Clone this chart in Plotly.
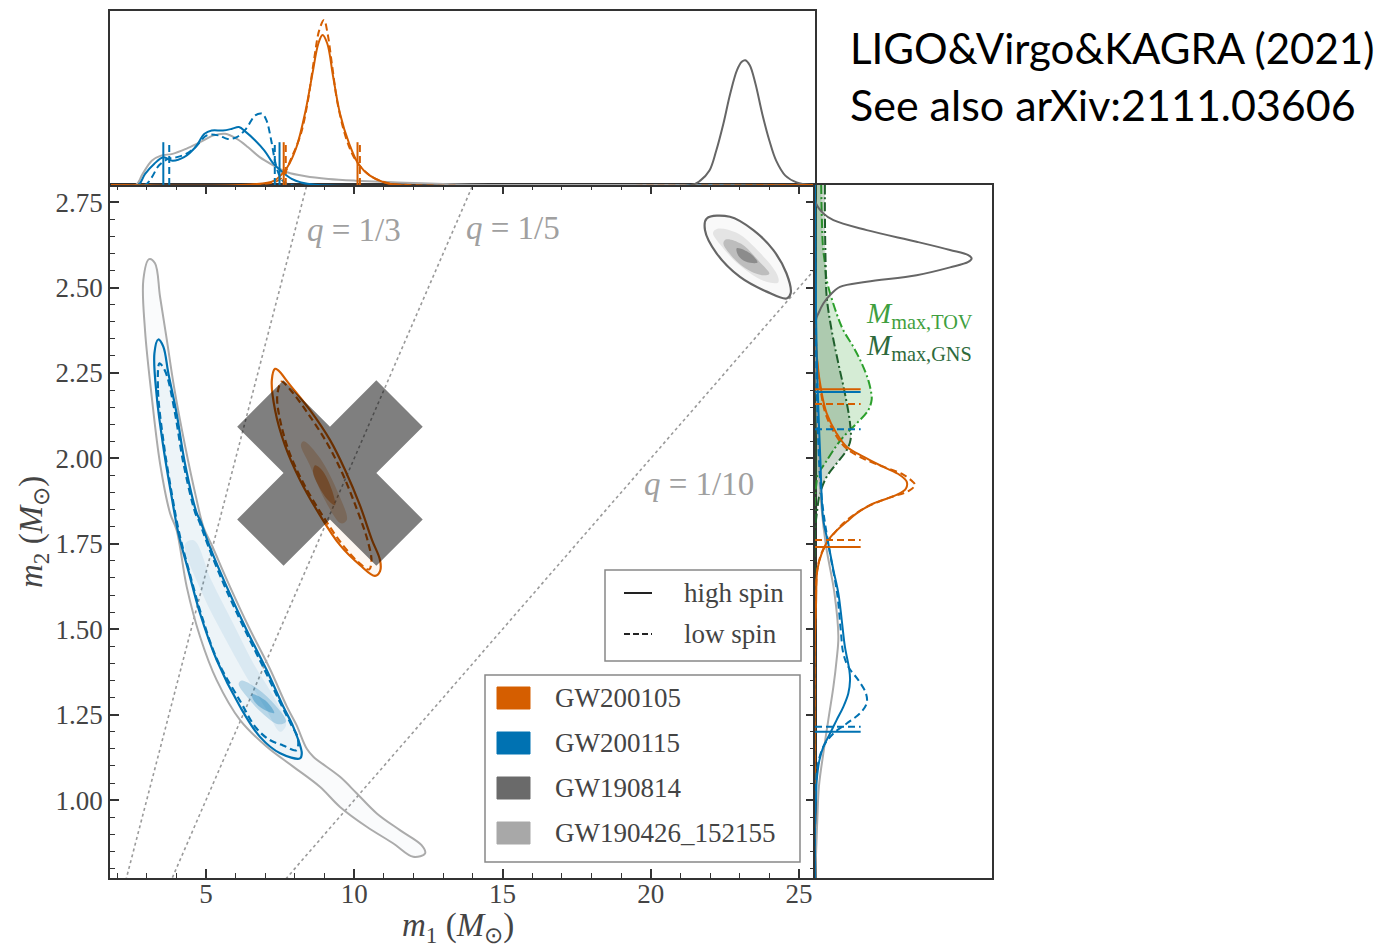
import plotly.graph_objects as go

W, H = 1389, 952
def px(x): return x / W
def py(y): return 1 - y / H

C_OR = '#d55e00'
C_BL = '#0072b2'
C_DG = '#666666'
C_LG = '#ababab'
C_TOV = '#2ca02c'
C_GNS = '#1f5f2c'
AXC = '#333333'
TXT = '#444444'
SERIF = 'Liberation Serif, Times New Roman, serif'

# ---------------- data (m1, m2 in solar masses) ----------------
q_values = [1/3, 1/5, 1/10]
q_labels = ['1/3', '1/5', '1/10']
q_label_m1 = [10.0, 15.34, 21.63]
q_label_m2 = [2.668, 2.674, 1.925]

# GW190426_152155 90% contour
gw426_m1 = [3.08, 2.886, 2.943, 3.17, 3.45, 3.79, 4.01, 4.35, 4.80, 5.36, 6.15, 7.05, 7.94, 8.84, 9.52,
            10.42, 11.32, 11.99, 12.39, 12.27, 11.54, 10.76, 10.08, 9.52, 8.62, 8.40, 8.05, 7.72, 7.15,
            6.45, 5.78, 5.20, 4.91, 4.66, 4.30, 3.92, 3.68, 3.45, 3.28, 3.08]
gw426_m2 = [2.583, 2.522, 2.375, 2.180, 1.985, 1.839, 1.790, 1.624, 1.478, 1.351, 1.234, 1.156, 1.098, 1.039, 0.980,
            0.922, 0.873, 0.834, 0.844, 0.868, 0.912, 0.961, 1.020, 1.068, 1.127, 1.150, 1.220, 1.275, 1.385,
            1.505, 1.630, 1.745, 1.800, 1.888, 2.034, 2.210, 2.346, 2.473, 2.571, 2.583]

# GW200115 contours
gw115_hi_m1 = [3.39, 3.26, 3.34, 3.56, 3.84, 4.07, 4.40, 4.80, 5.36, 6.15, 6.82, 7.50, 8.17, 8.23, 7.94, 7.61,
               7.05, 6.37, 5.70, 5.13, 4.80, 4.69, 4.29, 4.01, 3.73, 3.56, 3.39]
gw115_hi_m2 = [2.348, 2.307, 2.180, 2.034, 1.888, 1.780, 1.673, 1.546, 1.410, 1.273, 1.185, 1.137, 1.122, 1.137,
               1.215, 1.273, 1.380, 1.498, 1.624, 1.741, 1.819, 1.839, 1.985, 2.131, 2.249, 2.327, 2.348]
gw115_lo_m1 = [3.43, 3.38, 3.58, 3.86, 4.10, 4.43, 4.83, 5.38, 6.15, 6.70, 7.15, 7.60, 8.05, 8.10, 7.88, 7.56,
               7.01, 6.33, 5.66, 5.09, 4.75, 4.64, 4.24, 3.96, 3.69, 3.53, 3.43]
gw115_lo_m2 = [2.278, 2.200, 2.040, 1.890, 1.780, 1.670, 1.546, 1.410, 1.290, 1.210, 1.176, 1.160, 1.146, 1.180,
               1.220, 1.275, 1.375, 1.495, 1.620, 1.740, 1.820, 1.840, 1.985, 2.130, 2.240, 2.270, 2.278]
gw115_mid_m1 = [4.30, 4.90, 5.60, 6.30, 7.00, 7.50, 7.70, 7.30, 6.60, 5.90, 5.20, 4.60, 4.30]
gw115_mid_m2 = [1.750, 1.600, 1.480, 1.370, 1.270, 1.200, 1.220, 1.300, 1.400, 1.520, 1.640, 1.760, 1.750]
gw115_core_m1 = [6.20, 6.75, 7.33, 7.70, 7.43, 6.89, 6.40, 6.10, 6.20]
gw115_core_m2 = [1.350, 1.325, 1.278, 1.230, 1.222, 1.255, 1.300, 1.340, 1.350]
gw115_peak_m1 = [6.55, 7.05, 7.30, 6.95, 6.62, 6.55]
gw115_peak_m2 = [1.310, 1.288, 1.255, 1.265, 1.290, 1.310]

# GW200105 contours
gw105_hi_m1 = [7.33, 7.22, 7.33, 7.66, 8.17, 8.84, 9.52, 10.19, 10.70, 10.87, 10.87, 10.60, 10.19, 9.69,
               9.18, 8.51, 7.83, 7.43, 7.33]
gw105_hi_m2 = [2.262, 2.229, 2.141, 2.039, 1.937, 1.834, 1.746, 1.688, 1.656, 1.670, 1.702, 1.761, 1.863, 1.966,
               2.054, 2.141, 2.215, 2.258, 2.262]
gw105_lo_m1 = [7.50, 7.40, 7.48, 7.80, 8.30, 8.95, 9.58, 10.15, 10.50, 10.58, 10.45, 10.05, 9.58, 9.08, 8.45,
               7.85, 7.55, 7.50]
gw105_lo_m2 = [2.22, 2.18, 2.12, 2.02, 1.925, 1.83, 1.75, 1.695, 1.675, 1.70, 1.76, 1.86, 1.96, 2.045, 2.13,
               2.20, 2.225, 2.22]
gw105_mid_m1 = [8.30, 8.85, 9.45, 9.75, 9.55, 9.00, 8.50, 8.20, 8.30]
gw105_mid_m2 = [2.050, 2.000, 1.900, 1.820, 1.810, 1.880, 1.980, 2.040, 2.050]
gw105_core_m1 = [8.68, 8.91, 9.25, 9.35, 9.11, 8.78, 8.61, 8.68]
gw105_core_m2 = [1.980, 1.966, 1.907, 1.863, 1.878, 1.922, 1.960, 1.980]

# GW190814 contour
gw814_m1 = [21.89, 22.67, 23.46, 24.13, 24.58, 24.72, 24.58, 23.91, 23.01, 22.22, 21.83, 21.89]
gw814_m2 = [2.702, 2.707, 2.668, 2.610, 2.541, 2.483, 2.468, 2.488, 2.531, 2.600, 2.668, 2.702]
gw814_mid_m1 = [22.25, 22.90, 23.70, 24.25, 24.30, 23.80, 23.00, 22.35, 22.10, 22.25]
gw814_mid_m2 = [2.672, 2.660, 2.600, 2.540, 2.515, 2.520, 2.565, 2.625, 2.660, 2.672]
gw814_core_m1 = [22.55, 23.05, 23.68, 24.00, 23.75, 23.18, 22.65, 22.45, 22.55]
gw814_core_m2 = [2.641, 2.628, 2.574, 2.540, 2.536, 2.557, 2.600, 2.630, 2.641]
gw814_peak_m1 = [22.90, 23.35, 23.60, 23.20, 22.95, 22.90]
gw814_peak_m2 = [2.615, 2.600, 2.573, 2.576, 2.594, 2.615]

cross_m1, cross_m2 = 9.18, 1.957

# ---------- top marginal: p(m1), normalised to panel height ----------
top_or_hi_x = [1.8, 6.5, 7.3, 7.74, 8.05, 8.36, 8.59, 8.79, 8.93, 9.09, 9.29, 9.52, 9.83, 10.14, 10.53, 11.0, 11.5, 25.5]
top_or_hi_y = [0, 0.003, 0.025, 0.102, 0.217, 0.429, 0.640, 0.813, 0.862, 0.813, 0.621, 0.410, 0.237, 0.121, 0.054, 0.015, 0.0, 0]
top_or_lo_x = [1.8, 6.8, 7.51, 7.89, 8.20, 8.44, 8.64, 8.82, 8.98, 9.10, 9.26, 9.44, 9.75, 10.06, 10.53, 11.15, 11.8, 25.5]
top_or_lo_y = [0, 0.003, 0.035, 0.160, 0.294, 0.487, 0.717, 0.890, 0.948, 0.871, 0.679, 0.467, 0.256, 0.140, 0.054, 0.010, 0, 0]
top_bl_hi_x = [1.8, 2.71, 2.94, 3.25, 3.56, 3.87, 4.26, 4.64, 4.95, 5.19, 5.57, 5.88, 6.11, 6.35, 6.66, 6.97, 7.28, 7.59, 7.89, 8.20, 8.67, 25.5]
top_bl_hi_y = [0, 0, 0.063, 0.121, 0.160, 0.140, 0.160, 0.217, 0.294, 0.313, 0.313, 0.323, 0.333, 0.304, 0.256, 0.198, 0.121, 0.073, 0.035, 0.015, 0.002, 0]
top_bl_lo_x = [1.8, 2.94, 3.17, 3.41, 3.72, 4.02, 4.33, 4.64, 5.03, 5.42, 5.73, 6.04, 6.35, 6.66, 6.89, 7.04, 7.20, 7.35, 7.51, 7.74, 25.5]
top_bl_lo_y = [0, 0, 0.044, 0.112, 0.150, 0.160, 0.179, 0.217, 0.285, 0.285, 0.265, 0.275, 0.323, 0.400, 0.410, 0.371, 0.256, 0.121, 0.044, 0.006, 0]
top_426_x = [1.8, 2.63, 2.86, 3.17, 3.48, 3.87, 4.33, 4.80, 5.26, 5.65, 6.04, 6.42, 6.81, 7.28, 7.74, 8.36, 9.13, 10.06, 11.46, 13.0, 14.55, 25.5]
top_426_y = [0, 0, 0.063, 0.140, 0.169, 0.179, 0.208, 0.246, 0.285, 0.294, 0.265, 0.217, 0.160, 0.112, 0.073, 0.050, 0.035, 0.025, 0.015, 0.006, 0, 0]
top_814_x = [1.8, 21.36, 21.67, 21.98, 22.21, 22.45, 22.68, 22.91, 23.07, 23.19, 23.34, 23.53, 23.76, 24.0, 24.23, 24.54, 24.92, 25.4, 25.54]
top_814_y = [0, 0, 0.025, 0.083, 0.198, 0.352, 0.525, 0.660, 0.708, 0.717, 0.688, 0.583, 0.410, 0.256, 0.140, 0.054, 0.015, 0, 0]
# 90% intervals on m1
ci_m1_or_hi = [7.62, 10.11]
ci_m1_or_lo = [7.69, 10.19]
ci_m1_bl_hi = [3.56, 7.48]
ci_m1_bl_lo = [3.76, 7.32]
ci_top_height = 0.246

# ---------- right marginal: p(m2), normalised to panel width ----------
r_814_m2 = [2.80, 2.746, 2.717, 2.697, 2.668, 2.634, 2.610, 2.595, 2.585, 2.575, 2.559, 2.536, 2.517, 2.502, 2.478, 2.453, 2.424, 2.405, 0.772]
r_814_p = [0.0, 0.006, 0.047, 0.104, 0.292, 0.574, 0.763, 0.866, 0.885, 0.866, 0.763, 0.574, 0.292, 0.141, 0.085, 0.047, 0.019, 0.006, 0.0]
r_tov_m2 = [2.80, 2.717, 2.619, 2.571, 2.522, 2.424, 2.375, 2.327, 2.278, 2.229, 2.190, 2.171, 2.141, 2.102, 2.063, 2.024, 1.985, 1.956, 1.917, 1.88, 0.772]
r_tov_p = [0.035, 0.038, 0.045, 0.056, 0.066, 0.122, 0.160, 0.216, 0.264, 0.301, 0.318, 0.320, 0.301, 0.235, 0.160, 0.104, 0.056, 0.019, 0.006, 0.0, 0.0]
r_gns_m2 = [2.80, 2.717, 2.571, 2.473, 2.375, 2.278, 2.190, 2.102, 2.055, 2.024, 1.985, 1.946, 1.897, 1.838, 1.78, 0.772]
r_gns_p = [0.056, 0.056, 0.060, 0.066, 0.094, 0.132, 0.169, 0.198, 0.201, 0.179, 0.122, 0.066, 0.028, 0.010, 0.0, 0.0]
r_or_hi_m2 = [2.80, 2.3, 2.190, 2.132, 2.073, 2.034, 2.005, 1.975, 1.951, 1.932, 1.912, 1.893, 1.868, 1.839, 1.815, 1.790, 1.761, 1.722, 1.673, 1.576, 1.478, 0.772]
r_or_hi_p = [0, 0.01, 0.038, 0.066, 0.122, 0.179, 0.273, 0.386, 0.480, 0.518, 0.514, 0.461, 0.330, 0.235, 0.180, 0.125, 0.075, 0.038, 0.013, 0.006, 0.0, 0]
r_or_lo_m2 = [2.80, 2.3, 2.19, 2.13, 2.07, 2.03, 2.0, 1.975, 1.955, 1.935, 1.922, 1.905, 1.885, 1.86, 1.835, 1.81, 1.785, 1.755, 1.72, 1.67, 1.58, 1.48, 0.772]
r_or_lo_p = [0, 0.01, 0.035, 0.06, 0.115, 0.175, 0.27, 0.39, 0.49, 0.545, 0.565, 0.53, 0.42, 0.30, 0.22, 0.16, 0.115, 0.07, 0.035, 0.012, 0.005, 0, 0]
r_bl_hi_m2 = [2.80, 2.3, 2.0, 1.819, 1.751, 1.673, 1.605, 1.527, 1.449, 1.380, 1.351, 1.312, 1.273, 1.234, 1.195, 1.156, 1.117, 1.059, 1.010, 0.95, 0.772]
r_bl_hi_p = [0.0, 0.01, 0.03, 0.047, 0.075, 0.104, 0.132, 0.151, 0.169, 0.194, 0.198, 0.188, 0.160, 0.122, 0.085, 0.047, 0.025, 0.010, 0.006, 0.0, 0.0]
r_bl_lo_m2 = [2.80, 2.2, 1.9, 1.751, 1.605, 1.50, 1.429, 1.390, 1.351, 1.312, 1.283, 1.254, 1.224, 1.195, 1.156, 1.10, 1.0, 0.772]
r_bl_lo_p = [0.0, 0.01, 0.035, 0.075, 0.125, 0.145, 0.160, 0.188, 0.245, 0.288, 0.292, 0.254, 0.179, 0.104, 0.047, 0.015, 0.003, 0.0]
r_426_m2 = [2.55, 2.2, 1.9, 1.751, 1.605, 1.478, 1.41, 1.332, 1.234, 1.137, 1.039, 0.941, 0.844, 0.772]
r_426_p = [0.0, 0.01, 0.03, 0.06, 0.11, 0.132, 0.122, 0.104, 0.075, 0.047, 0.022, 0.013, 0.006, 0.003]
# 90% intervals on m2
ci_m2_or_hi = [1.741, 2.202]
ci_m2_or_lo = [1.761, 2.159]
ci_m2_bl_hi = [1.200, 2.194]
ci_m2_bl_lo = [1.2146, 2.085]
ci_right_len = 0.258

legend_events = ['GW200105', 'GW200115', 'GW190814', 'GW190426_152155']
legend_colors = [C_OR, C_BL, '#6a6a6a', '#a8a8a8']

x_range = [1.762, 25.54]
y_range = [0.772, 2.80]

# ---------------- figure ----------------
fig = go.Figure()

def add(x, y, color, dash='solid', xa='x', ya='y', width=2.0, fill=None, fillcolor=None, spline=True):
    fig.add_trace(go.Scatter(
        x=x, y=y, mode='lines', xaxis=xa, yaxis=ya,
        line=dict(color=color, width=width, dash=dash, shape='spline' if spline else 'linear',
                  smoothing=1.0 if spline else None),
        fill=fill, fillcolor=fillcolor, hoverinfo='skip', showlegend=False))

def blob(x, y, rgba):
    add(x, y, 'rgba(0,0,0,0)', width=0, fill='toself', fillcolor=rgba)

DASH = '7px,4px'
DASHDOT = '9px,3px,2px,3px'

# q lines
for q in q_values:
    xs = [0.0, 30.0]
    add(xs, [q * v for v in xs], '#9a9a9a', dash='dot', width=1.6, spline=False)

# GW190426
add(gw426_m1, gw426_m2, C_LG, width=2.0, fill='toself', fillcolor='rgba(120,150,180,0.04)')
# GW200115 density + contours
blob(gw115_hi_m1, gw115_hi_m2, 'rgba(0,114,178,0.05)')
blob(gw115_mid_m1, gw115_mid_m2, 'rgba(0,114,178,0.08)')
blob(gw115_core_m1, gw115_core_m2, 'rgba(0,114,178,0.22)')
blob(gw115_peak_m1, gw115_peak_m2, 'rgba(0,114,178,0.35)')
add(gw115_hi_m1, gw115_hi_m2, C_BL, width=2.2)
add(gw115_lo_m1, gw115_lo_m2, C_BL, dash=DASH, width=2.2)
# GW200105
blob(gw105_hi_m1, gw105_hi_m2, 'rgba(213,94,0,0.05)')
blob(gw105_mid_m1, gw105_mid_m2, 'rgba(213,94,0,0.25)')
blob(gw105_core_m1, gw105_core_m2, 'rgba(213,94,0,0.50)')
add(gw105_hi_m1, gw105_hi_m2, C_OR, width=2.2)
add(gw105_lo_m1, gw105_lo_m2, C_OR, dash=DASH, width=2.2)
# GW190814
blob(gw814_m1, gw814_m2, 'rgba(90,90,90,0.04)')
blob(gw814_mid_m1, gw814_mid_m2, 'rgba(80,80,80,0.12)')
blob(gw814_core_m1, gw814_core_m2, 'rgba(70,70,70,0.25)')
blob(gw814_peak_m1, gw814_peak_m2, 'rgba(50,50,50,0.35)')
add(gw814_m1, gw814_m2, C_DG, width=2.2)

# big grey cross
fig.add_trace(go.Scatter(x=[cross_m1], y=[cross_m2], mode='markers', xaxis='x', yaxis='y',
                         marker=dict(symbol='x', size=164, color='rgba(0,0,0,0.5)', line=dict(width=0)),
                         hoverinfo='skip', showlegend=False))

# top marginal
add(top_426_x, top_426_y, C_LG, xa='x2', ya='y2', width=2.0)
add(top_814_x, top_814_y, C_DG, xa='x2', ya='y2', width=2.0)
add(top_bl_hi_x, top_bl_hi_y, C_BL, xa='x2', ya='y2', width=2.0)
add(top_bl_lo_x, top_bl_lo_y, C_BL, dash=DASH, xa='x2', ya='y2', width=2.0)
add(top_or_hi_x, top_or_hi_y, C_OR, xa='x2', ya='y2', width=2.0)
add(top_or_lo_x, top_or_lo_y, C_OR, dash=DASH, xa='x2', ya='y2', width=2.0)
for vals, col, dsh in [(ci_m1_bl_hi, C_BL, 'solid'), (ci_m1_bl_lo, C_BL, DASH),
                       (ci_m1_or_hi, C_OR, 'solid'), (ci_m1_or_lo, C_OR, DASH)]:
    for v in vals:
        add([v, v], [0, ci_top_height], col, dash=dsh, xa='x2', ya='y2', width=2.0, spline=False)

# right marginal
add(r_tov_p, r_tov_m2, C_TOV, dash=DASHDOT, xa='x3', ya='y3', width=2.0, fill='tozerox',
    fillcolor='rgba(44,160,44,0.20)')
add(r_gns_p, r_gns_m2, C_GNS, dash=DASHDOT, xa='x3', ya='y3', width=2.0, fill='tozerox',
    fillcolor='rgba(30,80,40,0.22)')
add(r_814_p, r_814_m2, C_DG, xa='x3', ya='y3', width=2.0)
add(r_426_p, r_426_m2, C_LG, xa='x3', ya='y3', width=2.0)
add(r_or_hi_p, r_or_hi_m2, C_OR, xa='x3', ya='y3', width=2.0)
add(r_or_lo_p, r_or_lo_m2, C_OR, dash=DASH, xa='x3', ya='y3', width=2.0)
add(r_bl_hi_p, r_bl_hi_m2, C_BL, xa='x3', ya='y3', width=2.0)
add(r_bl_lo_p, r_bl_lo_m2, C_BL, dash=DASH, xa='x3', ya='y3', width=2.0)
for vals, col, dsh in [(ci_m2_or_hi, C_OR, 'solid'), (ci_m2_or_lo, C_OR, DASH),
                       (ci_m2_bl_hi, C_BL, 'solid'), (ci_m2_bl_lo, C_BL, DASH)]:
    for v in vals:
        add([0, ci_right_len], [v, v], col, dash=dsh, xa='x3', ya='y3', width=2.0, spline=False)

# ---------------- axes ----------------
tickfont = dict(family=SERIF, size=27, color=TXT)
xdom = [px(110), px(815)]
ydom = [py(878), py(185)]
common_frame = dict(showline=True, linecolor=AXC, linewidth=1.5, showgrid=False, zeroline=False)

fig.update_layout(
    width=W, height=H, margin=dict(l=0, r=0, t=0, b=0),
    paper_bgcolor='white', plot_bgcolor='white', showlegend=False,
    xaxis=dict(domain=xdom, range=x_range, anchor='y', tickvals=[5, 10, 15, 20, 25],
               ticks='inside', ticklen=9, tickwidth=1.5, tickcolor=AXC, mirror='ticks',
               ticklabelstandoff=-9,
               minor=dict(dtick=1, tick0=0, ticks='inside', ticklen=5, tickwidth=1.1, tickcolor=AXC),
               tickfont=tickfont, **common_frame),
    yaxis=dict(domain=ydom, range=y_range, anchor='x',
               tickvals=[1.0, 1.25, 1.5, 1.75, 2.0, 2.25, 2.5, 2.75],
               ticktext=['1.00', '1.25', '1.50', '1.75', '2.00', '2.25', '2.50', '2.75'],
               ticks='inside', ticklen=9, tickwidth=1.5, tickcolor=AXC, mirror='ticks',
               minor=dict(dtick=0.05, tick0=0, ticks='inside', ticklen=5, tickwidth=1.1, tickcolor=AXC),
               tickfont=tickfont, **common_frame),
    xaxis2=dict(domain=xdom, matches='x', anchor='y2', showticklabels=False, ticks='', mirror=True, **common_frame),
    yaxis2=dict(domain=[py(185), py(11)], range=[0, 1.0], anchor='x2', showticklabels=False, ticks='',
                mirror=True, **common_frame),
    xaxis3=dict(domain=[px(815), px(992)], range=[0, 1.0], anchor='y3', showticklabels=False, ticks='',
                mirror=True, **common_frame),
    yaxis3=dict(domain=ydom, matches='y', anchor='x3', showticklabels=False, ticks='', mirror=True, **common_frame),
)

# ---------------- annotations ----------------
ann = []
for lab, xm, ym in zip(q_labels, q_label_m1, q_label_m2):
    ann.append(dict(x=xm, y=ym, xref='x', yref='y', text='<i>q</i> = ' + lab, showarrow=False,
                    font=dict(family=SERIF, size=33, color='#a0a0a0'), xanchor='center', yanchor='middle'))

ann.append(dict(x=px(458), y=py(927), xref='paper', yref='paper', showarrow=False,
                text='<i>m</i><sub>1</sub> (<i>M</i><sub>⊙</sub>)',
                font=dict(family=SERIF, size=33, color=TXT), xanchor='center', yanchor='middle'))
ann.append(dict(x=px(33), y=py(532), xref='paper', yref='paper', showarrow=False, textangle=-90,
                text='<i>m</i><sub>2</sub> (<i>M</i><sub>⊙</sub>)',
                font=dict(family=SERIF, size=33, color=TXT), xanchor='center', yanchor='middle'))

ann.append(dict(x=px(864), y=py(315), xref='paper', yref='paper', showarrow=False,
                text='<i>M</i><sub>max,TOV</sub>', font=dict(family=SERIF, size=29, color='#3f9f3f'),
                xanchor='left', yanchor='middle'))
ann.append(dict(x=px(864), y=py(347), xref='paper', yref='paper', showarrow=False,
                text='<i>M</i><sub>max,GNS</sub>', font=dict(family=SERIF, size=29, color='#2e6a3c'),
                xanchor='left', yanchor='middle'))

ann.append(dict(x=px(848), y=py(48), xref='paper', yref='paper', showarrow=False,
                text='LIGO&amp;Virgo&amp;KAGRA (2021)', font=dict(family='Lato, sans-serif', size=42, color='black'),
                xanchor='left', yanchor='middle'))
ann.append(dict(x=px(848), y=py(104), xref='paper', yref='paper', showarrow=False,
                text='See also arXiv:2111.03606', font=dict(family='Lato, sans-serif', size=43, color='black'),
                xanchor='left', yanchor='middle'))

shapes = []
# spin legend box
shapes.append(dict(type='rect', xref='paper', yref='paper', x0=px(605), x1=px(801), y0=py(570), y1=py(661),
                   line=dict(color='#888888', width=1.5), fillcolor='white', layer='above'))
shapes.append(dict(type='line', xref='paper', yref='paper', x0=px(624), x1=px(652), y0=py(593), y1=py(593),
                   line=dict(color='#222222', width=2), layer='above'))
shapes.append(dict(type='line', xref='paper', yref='paper', x0=px(624), x1=px(652), y0=py(634), y1=py(634),
                   line=dict(color='#222222', width=2, dash='6px,3px'), layer='above'))
ann.append(dict(x=px(682), y=py(593), xref='paper', yref='paper', showarrow=False, text='high spin',
                font=dict(family=SERIF, size=27, color=TXT), xanchor='left', yanchor='middle'))
ann.append(dict(x=px(682), y=py(634), xref='paper', yref='paper', showarrow=False, text='low spin',
                font=dict(family=SERIF, size=27, color=TXT), xanchor='left', yanchor='middle'))
# event legend box
shapes.append(dict(type='rect', xref='paper', yref='paper', x0=px(485), x1=px(800), y0=py(675), y1=py(862),
                   line=dict(color='#888888', width=1.5), fillcolor='white', layer='above'))
for i, (name, col) in enumerate(zip(legend_events, legend_colors)):
    yc = 698 + 45 * i
    shapes.append(dict(type='rect', xref='paper', yref='paper', x0=px(497), x1=px(530), y0=py(yc - 11),
                       y1=py(yc + 11), line=dict(color=col, width=1), fillcolor=col, layer='above'))
    ann.append(dict(x=px(553), y=py(yc), xref='paper', yref='paper', showarrow=False, text=name,
                    font=dict(family=SERIF, size=27, color=TXT), xanchor='left', yanchor='middle'))

fig.update_layout(annotations=ann, shapes=shapes)
fig.write_html('out.html')
